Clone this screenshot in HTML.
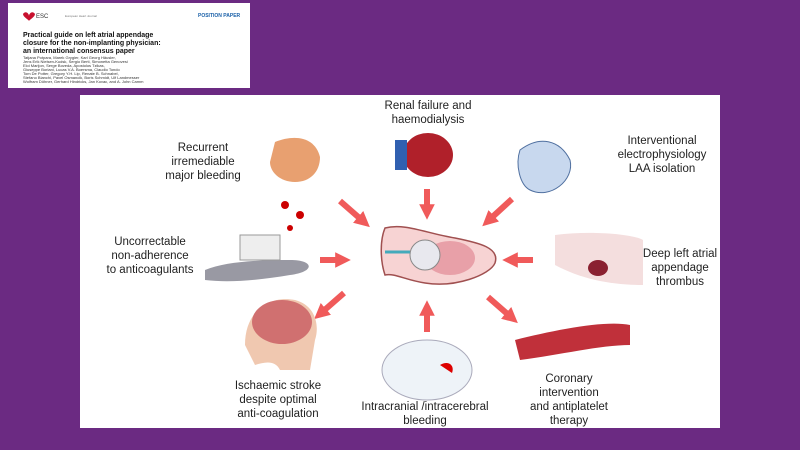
<!DOCTYPE html>
<html><head><style>
body{margin:0;width:800px;height:450px;background:#6b2a82;overflow:hidden;position:relative;font-family:"Liberation Sans",sans-serif}
.paper{position:absolute;left:8px;top:3px;width:242px;height:85px;background:#fff}
.panel{position:absolute;left:80px;top:95px;width:640px;height:333px;background:#fff}
svg{position:absolute;left:0;top:0}
.lbl{font-size:11.5px;fill:#222;text-anchor:middle}
.pt{font-size:7px;font-weight:bold;fill:#111}
.au{font-size:4px;fill:#333}
</style></head><body>
<div class="paper"></div>
<div class="panel"></div>
<svg width="800" height="450" viewBox="0 0 800 450">
<defs><marker id="a" markerWidth="2.6" markerHeight="2.6" refX="1.3" refY="1.3" orient="auto"><path d="M0,0L2.6,1.3L0,2.6z" fill="#f05a5a"/></marker></defs>
<path d="M23,14c3,-4 6,0 6,2c0,-2 3,-6 6,-2c0,3 -6,6 -6,7c0,-1 -6,-4 -6,-7z" fill="#c8102e"/>
<text x="36" y="18" font-size="6" fill="#333">ESC</text>
<text x="65" y="17" font-size="3" fill="#777">European Heart Journal</text>
<text x="198" y="17" font-size="5" fill="#1a60a8" font-weight="bold">POSITION PAPER</text>
<text x="23" y="37" class="pt">Practical guide on left atrial appendage</text>
<text x="23" y="45" class="pt">closure for the non-implanting physician:</text>
<text x="23" y="53" class="pt">an international consensus paper</text>
<g class="au"><text x="23" y="59">Tatjana Potpara, Marek Grygier, Karl Georg Häusler,</text><text x="23" y="63">Jens Erik Nielsen-Kudsk, Sergio Berti, Simonetta Genovesi</text><text x="23" y="67">Eloi Marijon, Serge Boveda, Apostolos Tzikas,</text><text x="23" y="71">Giuseppe Boriani, Lucas V.A. Boersma, Claudio Tondo</text><text x="23" y="75">Tom De Potter, Gregory Y.H. Lip, Renate B. Schnabel,</text><text x="23" y="79">Stefano Bianchi, Pavel Osmancik, Boris Schmidt, Ulf Landmesser</text><text x="23" y="83">Wolfram Döhner, Gerhard Hindricks, Jan Kovac, and A. John Camm</text></g>
<g stroke="#f05a5a" stroke-width="6" marker-end="url(#a)" fill="none">
<line x1="427" y1="189" x2="427" y2="212"/>
<line x1="340" y1="201" x2="364" y2="222"/>
<line x1="512" y1="199" x2="488" y2="221"/>
<line x1="320" y1="260" x2="343" y2="260"/>
<line x1="533" y1="260" x2="510" y2="260"/>
<line x1="344" y1="293" x2="320" y2="314"/>
<line x1="427" y1="332" x2="427" y2="308"/>
<line x1="488" y1="297" x2="512" y2="318"/>
</g>
<path d="M385,228c20,-5 40,5 70,10c25,5 45,10 40,25c-5,12 -40,25 -70,20c-20,-3 -30,-10 -40,-8c-5,-15 -5,-35 0,-47z" fill="#f7d3d3" stroke="#a05050" stroke-width="1.5"/>
<ellipse cx="450" cy="258" rx="25" ry="17" fill="#e8a0a8"/>
<circle cx="425" cy="255" r="15" fill="#e8e8ee" stroke="#888"/>
<line x1="385" y1="252" x2="410" y2="252" stroke="#4ab" stroke-width="3"/>
<path d="M275,142c20,-8 40,-5 45,15c0,15 -10,25 -25,25c-15,0 -25,-10 -25,-20z" fill="#e8a070"/>
<circle cx="285" cy="205" r="4" fill="#c00"/><circle cx="300" cy="215" r="4" fill="#c00"/><circle cx="290" cy="228" r="3" fill="#c00"/>
<ellipse cx="428" cy="155" rx="25" ry="22" fill="#b0202a"/><rect x="395" y="140" width="12" height="30" fill="#3060b0"/>
<path d="M520,150c20,-15 40,-10 50,10c5,20 -20,40 -40,30c-10,-5 -15,-25 -10,-40z" fill="#c8d8ee" stroke="#5070a0"/>
<path d="M555,235c40,-5 80,0 88,5v45c-30,0 -60,-5 -88,-20z" fill="#f4dede"/><ellipse cx="598" cy="268" rx="10" ry="8" fill="#8a2030"/>
<path d="M205,270c20,-8 50,-10 85,-10c25,0 25,12 0,15c-30,5 -60,8 -85,5z" fill="#556" opacity=".6"/>
<rect x="240" y="235" width="40" height="25" fill="#eee" stroke="#999"/>
<path d="M245,345c0,-35 25,-50 50,-45c20,5 25,25 20,40l-5,30h-30c-5,-10 -15,-8 -25,-5z" fill="#f0c8b0"/>
<ellipse cx="282" cy="322" rx="30" ry="22" fill="#d07070"/>
<ellipse cx="427" cy="370" rx="45" ry="30" fill="#eef3f8" stroke="#aab"/><path d="M440,365c8,-5 15,0 12,8z" fill="#d00"/>
<path d="M515,340c40,-10 90,-20 115,-15v20c-30,0 -70,10 -110,15z" fill="#c0303a"/>
<g class="lbl">
<text x="428" y="109">Renal failure and</text><text x="428" y="123">haemodialysis</text>
<text x="203" y="151">Recurrent</text><text x="203" y="165">irremediable</text><text x="203" y="179">major bleeding</text>
<text x="662" y="144">Interventional</text><text x="662" y="158">electrophysiology</text><text x="662" y="172">LAA isolation</text>
<text x="150" y="245">Uncorrectable</text><text x="150" y="259">non-adherence</text><text x="150" y="273">to anticoagulants</text>
<text x="680" y="257">Deep left atrial</text><text x="680" y="271">appendage</text><text x="680" y="285">thrombus</text>
<text x="278" y="389">Ischaemic stroke</text><text x="278" y="403">despite optimal</text><text x="278" y="417">anti-coagulation</text>
<text x="425" y="410">Intracranial /intracerebral</text><text x="425" y="424">bleeding</text>
<text x="569" y="382">Coronary</text><text x="569" y="396">intervention</text><text x="569" y="410">and antiplatelet</text><text x="569" y="424">therapy</text>
</g>
</svg>
</body></html>
